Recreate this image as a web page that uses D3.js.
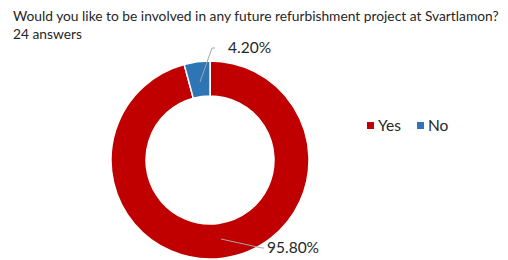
<!DOCTYPE html>
<html>
<head>
<meta charset="utf-8">
<script src="https://cdn.jsdelivr.net/npm/d3@7"></script>
<style>
  body { margin: 0; background: #fff; }
  text { font-family: Lato, "Open Sans", sans-serif; fill: #262626; }
</style>
</head>
<body>
<div id="chart"></div>
<script>
const categories = ["Yes", "No"];
const shares = [95.8, 4.2];
const labels = ["95.80%", "4.20%"];
const colors = ["#C00000", "#2E75B6"];
const titleLines = ["Would you like to be involved in any future refurbishment project at Svartlamon?", "24 answers"];

const width = 508, height = 260;
const cx = 210, cy = 160;
const outerR = 99, innerR = 64;

const svg = d3.select("#chart").append("svg")
    .attr("width", width)
    .attr("height", height);

// title - shrink the font until the first line fits the reference width
const title = svg.selectAll(".title")
    .data(titleLines)
    .enter()
    .append("text")
    .attr("class", "title")
    .attr("x", 13)
    .attr("y", (d, i) => 21 + i * 18)
    .style("font-size", "15.5px")
    .text(d => d);

const line1 = title.nodes()[0];
const w1 = line1.getComputedTextLength();
if (w1 > 486) {
    const fs = 15.5 * 486 / w1;
    title.style("font-size", fs + "px");
}

const data = categories.map((c, i) => ({ cat: c, value: shares[i], label: labels[i], color: colors[i] }));

const pie = d3.pie().sort(null).value(d => d.value);
const arc = d3.arc().innerRadius(innerR).outerRadius(outerR);
const arcs = pie(data);

const g = svg.append("g").attr("transform", `translate(${cx},${cy})`);

g.selectAll("path")
    .data(arcs)
    .enter()
    .append("path")
    .attr("d", arc)
    .attr("fill", d => d.data.color)
    .attr("stroke", "#fff")
    .attr("stroke-width", 1.5);

// leader lines + labels
const labelPos = {
    "Yes": { start: [11, 79], elbow: [52, 88], end: [54, 88], text: [57, 93] },
    "No": { start: [-10, -78], elbow: [2, -112], end: [5, -112], text: [18, -107] }
};

arcs.forEach(a => {
    const p = labelPos[a.data.cat];
    g.append("polyline")
        .attr("points", [p.start, p.elbow, p.end].map(q => q.join(",")).join(" "))
        .attr("fill", "none")
        .attr("stroke", "#A6A6A6")
        .attr("stroke-width", 1);
    g.append("text")
        .attr("x", p.text[0])
        .attr("y", p.text[1])
        .style("font-size", "15.5px")
        .text(a.data.label);
});

// legend
const legend = svg.append("g").attr("transform", "translate(367,126)");
const items = legend.selectAll("g")
    .data(data)
    .enter()
    .append("g")
    .attr("transform", (d, i) => `translate(${i * 50},0)`);

items.append("rect")
    .attr("x", 0)
    .attr("y", -4)
    .attr("width", 7)
    .attr("height", 7)
    .attr("fill", d => d.color);

items.append("text")
    .attr("x", 11)
    .attr("y", 5)
    .style("font-size", "15.5px")
    .text(d => d.cat);
</script>
</body>
</html>
